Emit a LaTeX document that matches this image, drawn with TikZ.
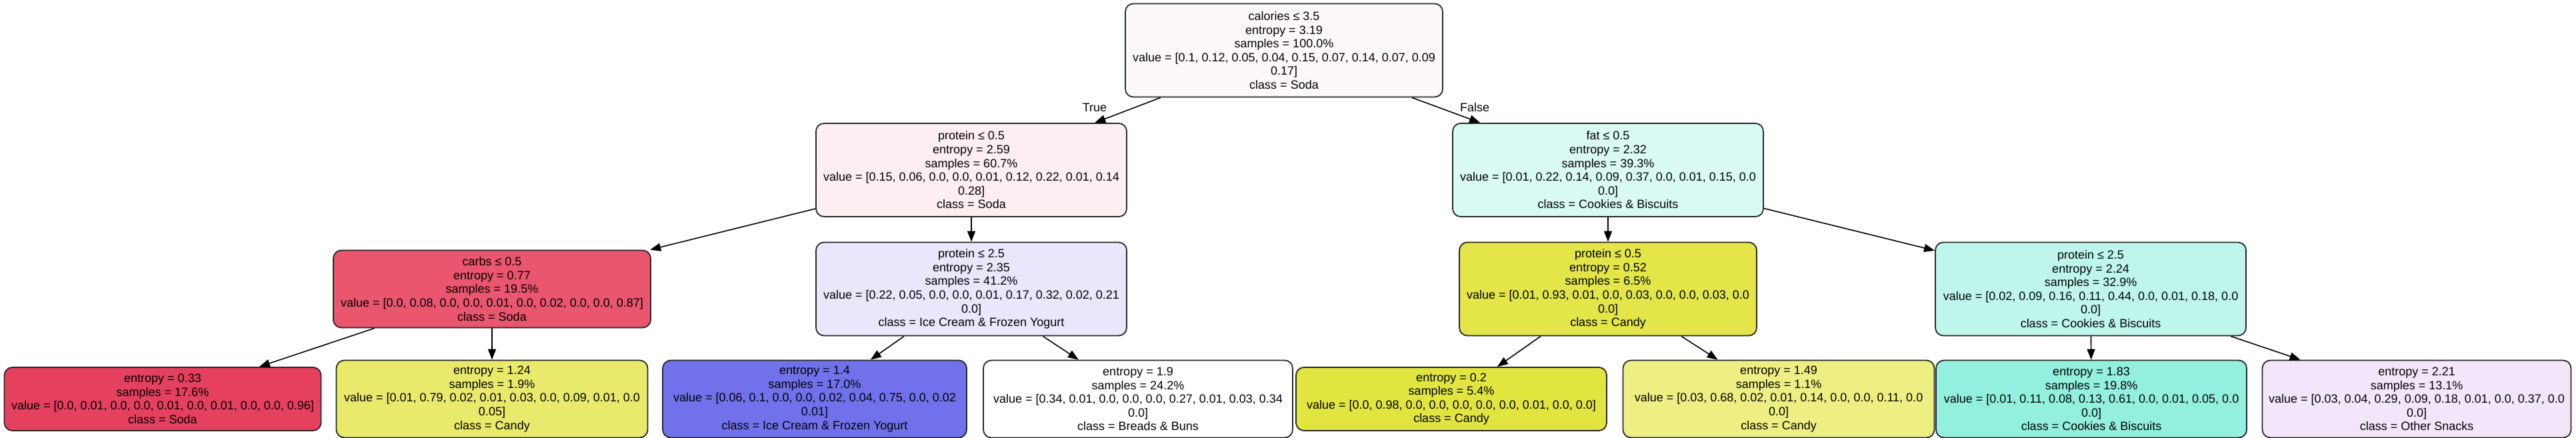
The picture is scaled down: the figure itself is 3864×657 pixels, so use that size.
\documentclass[tikz,border=0pt]{standalone}
\usepackage{fontspec}
\setmainfont{Liberation Sans}
\usetikzlibrary{arrows.meta}
\definecolor{cRoot}{HTML}{FDF9FA}
\definecolor{cA}{HTML}{FDEEF1}
\definecolor{cB}{HTML}{D9F9F3}
\definecolor{cC}{HTML}{E9566E}
\definecolor{cD}{HTML}{E8E7FB}
\definecolor{cE}{HTML}{E3E548}
\definecolor{cF}{HTML}{BEF6EC}
\definecolor{lA}{HTML}{E6405F}
\definecolor{lB}{HTML}{E9EA6B}
\definecolor{lC}{HTML}{7271EC}
\definecolor{lD}{HTML}{FFFFFF}
\definecolor{lE}{HTML}{E2E53F}
\definecolor{lF}{HTML}{EEEF83}
\definecolor{lG}{HTML}{93F0DF}
\definecolor{lH}{HTML}{F4E6FA}
\begin{document}
\begin{tikzpicture}[x=0.5pt,y=-0.5pt,
  tbox/.style={draw=black!85, line width=0.9pt, rounded corners=6pt, align=center,
    font=\fontsize{9}{10.3}\selectfont, inner sep=0pt},
  six/.style={minimum height=70pt},
  five/.style={minimum height=58pt},
  four/.style={minimum height=47.5pt},
  arr/.style={-{Triangle[length=8pt,width=6pt]}, line width=0.8pt},
  lbl/.style={font=\fontsize{9}{10.3}\selectfont, inner sep=0pt}]
\useasboundingbox (0,0) rectangle (3864,657);
% level 1
\node[tbox,six,fill=cRoot,minimum width=238pt] (root) at (1926,75.5)
  {calories ≤ 3.5\\entropy = 3.19\\samples = 100.0\%\\value = [0.1, 0.12, 0.05, 0.04, 0.15, 0.07, 0.14, 0.07, 0.09\\0.17]\\class = Soda};
% level 2
\node[tbox,six,fill=cA,minimum width=233pt] (n1) at (1457,255)
  {protein ≤ 0.5\\entropy = 2.59\\samples = 60.7\%\\value = [0.15, 0.06, 0.0, 0.0, 0.01, 0.12, 0.22, 0.01, 0.14\\0.28]\\class = Soda};
\node[tbox,six,fill=cB,minimum width=233pt] (n2) at (2412,255)
  {fat ≤ 0.5\\entropy = 2.32\\samples = 39.3\%\\value = [0.01, 0.22, 0.14, 0.09, 0.37, 0.0, 0.01, 0.15, 0.0\\0.0]\\class = Cookies \& Biscuits};
% level 3
\node[tbox,five,fill=cC,minimum width=238pt] (n3) at (738,433.5)
  {carbs ≤ 0.5\\entropy = 0.77\\samples = 19.5\%\\value = [0.0, 0.08, 0.0, 0.0, 0.01, 0.0, 0.02, 0.0, 0.0, 0.87]\\class = Soda};
\node[tbox,six,fill=cD,minimum width=233pt] (n4) at (1457,433.5)
  {protein ≤ 2.5\\entropy = 2.35\\samples = 41.2\%\\value = [0.22, 0.05, 0.0, 0.0, 0.01, 0.17, 0.32, 0.02, 0.21\\0.0]\\class = Ice Cream \& Frozen Yogurt};
\node[tbox,six,fill=cE,minimum width=223pt] (n5) at (2412,433.5)
  {protein ≤ 0.5\\entropy = 0.52\\samples = 6.5\%\\value = [0.01, 0.93, 0.01, 0.0, 0.03, 0.0, 0.0, 0.03, 0.0\\0.0]\\class = Candy};
\node[tbox,six,fill=cF,minimum width=233pt] (n6) at (3136,433.5)
  {protein ≤ 2.5\\entropy = 2.24\\samples = 32.9\%\\value = [0.02, 0.09, 0.16, 0.11, 0.44, 0.0, 0.01, 0.18, 0.0\\0.0]\\class = Cookies \& Biscuits};
% leaves
\node[tbox,four,fill=lA,minimum width=237.5pt] (l1) at (244,598.5)
  {entropy = 0.33\\samples = 17.6\%\\value = [0.0, 0.01, 0.0, 0.0, 0.01, 0.0, 0.01, 0.0, 0.0, 0.96]\\class = Soda};
\node[tbox,five,fill=lB,minimum width=233.5pt] (l2) at (738,598.5)
  {entropy = 1.24\\samples = 1.9\%\\value = [0.01, 0.79, 0.02, 0.01, 0.03, 0.0, 0.09, 0.01, 0.0\\0.05]\\class = Candy};
\node[tbox,five,fill=lC,minimum width=228pt] (l3) at (1222,598.5)
  {entropy = 1.4\\samples = 17.0\%\\value = [0.06, 0.1, 0.0, 0.0, 0.02, 0.04, 0.75, 0.0, 0.02\\0.01]\\class = Ice Cream \& Frozen Yogurt};
\node[tbox,five,fill=lD,minimum width=232pt] (l4) at (1707,598.5)
  {entropy = 1.9\\samples = 24.2\%\\value = [0.34, 0.01, 0.0, 0.0, 0.0, 0.27, 0.01, 0.03, 0.34\\0.0]\\class = Breads \& Buns};
\node[tbox,four,fill=lE,minimum width=233pt] (l5) at (2177,598.5)
  {entropy = 0.2\\samples = 5.4\%\\value = [0.0, 0.98, 0.0, 0.0, 0.0, 0.0, 0.0, 0.01, 0.0, 0.0]\\class = Candy};
\node[tbox,five,fill=lF,minimum width=233.5pt] (l6) at (2668,598.5)
  {entropy = 1.49\\samples = 1.1\%\\value = [0.03, 0.68, 0.02, 0.01, 0.14, 0.0, 0.0, 0.11, 0.0\\0.0]\\class = Candy};
\node[tbox,five,fill=lG,minimum width=233pt] (l7) at (3137,598.5)
  {entropy = 1.83\\samples = 19.8\%\\value = [0.01, 0.11, 0.08, 0.13, 0.61, 0.0, 0.01, 0.05, 0.0\\0.0]\\class = Cookies \& Biscuits};
\node[tbox,five,fill=lH,minimum width=231.5pt] (l8) at (3625,598.5)
  {entropy = 2.21\\samples = 13.1\%\\value = [0.03, 0.04, 0.29, 0.09, 0.18, 0.01, 0.0, 0.37, 0.0\\0.0]\\class = Other Snacks};
% edges
\draw[arr] (root) -- (n1);
\draw[arr] (root) -- (n2);
\draw[arr] (n1) -- (n3);
\draw[arr] (n1) -- (n4);
\draw[arr] (n2) -- (n5);
\draw[arr] (n2) -- (n6);
\draw[arr] (n3) -- (l1);
\draw[arr] (n3) -- (l2);
\draw[arr] (n4) -- (l3);
\draw[arr] (n4) -- (l4);
\draw[arr] (n5) -- (l5);
\draw[arr] (n5) -- (l6);
\draw[arr] (n6) -- (l7);
\draw[arr] (n6) -- (l8);
% edge labels
\node[lbl] (tlab) at (1642,161) {True};
\node[lbl] (flab) at (2212,161) {False};
\end{tikzpicture}
\end{document}
